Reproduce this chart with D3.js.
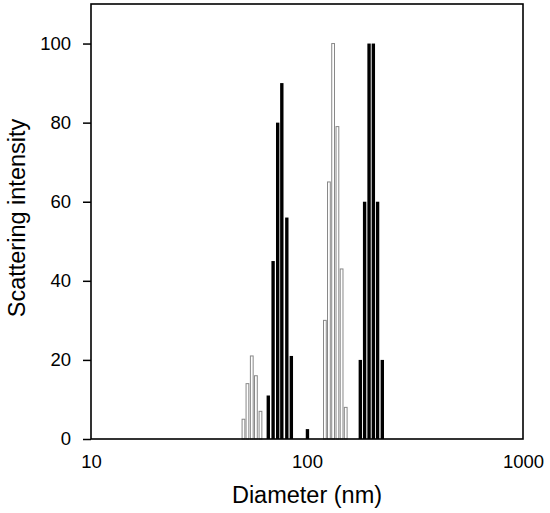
<!DOCTYPE html>
<html>
<head>
<meta charset="utf-8">
<script src="https://cdn.jsdelivr.net/npm/d3@7"></script>
<style>
  body { margin: 0; background: #fff; }
  text { font-family: "Liberation Sans", Arial, sans-serif; fill: #000; }
</style>
</head>
<body>
<script>
const width = 550;
const height = 513;

// 图的边框位置
const mLeft = 91, mRight = 523, mTop = 4, mBottom = 439;

// 数据：白色柱（空心）
const whiteDiam = [50.8, 53.0, 55.5, 58.0, 60.9, 121.0, 126.3, 132.1, 138.3, 144.6, 151.1];
const whiteVal  = [5, 14, 21, 16, 7, 30, 65, 100, 79, 43, 8];
// 黑色柱
const blackDiam = [66.4, 69.9, 73.4, 76.7, 80.9, 84.9, 100.8, 177.1, 185.4, 194.4, 203.5, 212.9, 223.9];
const blackVal  = [11, 45, 80, 90, 56, 21, 2.5, 20, 60, 100, 100, 60, 20];

const xTicks = [10, 100, 1000];
const yTicks = [0, 20, 40, 60, 80, 100];

const svg = d3.select("body").append("svg")
  .attr("width", width)
  .attr("height", height);

const x = d3.scaleLog().domain([10, 1000]).range([mLeft, mRight]);
const y = d3.scaleLinear().domain([0, 110]).range([mBottom, mTop]);

// 柱宽（对数空间中的半宽）
const blackHalf = 0.0092;
const whiteHalf = 0.0064;

const white = whiteDiam.map((d, i) => ({ d: d, v: whiteVal[i] }));
const black = blackDiam.map((d, i) => ({ d: d, v: blackVal[i] }));

svg.selectAll(".wbar")
  .data(white)
  .enter()
  .append("rect")
  .attr("class", "wbar")
  .attr("x", d => x(d.d * Math.pow(10, -whiteHalf)))
  .attr("width", d => x(d.d * Math.pow(10, whiteHalf)) - x(d.d * Math.pow(10, -whiteHalf)))
  .attr("y", d => y(d.v))
  .attr("height", d => y(0) - y(d.v))
  .attr("fill", "#fff")
  .attr("stroke", "#888")
  .attr("stroke-width", 1);

svg.selectAll(".bbar")
  .data(black)
  .enter()
  .append("rect")
  .attr("class", "bbar")
  .attr("x", d => x(d.d * Math.pow(10, -blackHalf)))
  .attr("width", d => x(d.d * Math.pow(10, blackHalf)) - x(d.d * Math.pow(10, -blackHalf)) - 0.6)
  .attr("y", d => y(d.v))
  .attr("height", d => y(0) - y(d.v))
  .attr("fill", "#000");

// 边框
svg.append("rect")
  .attr("x", mLeft)
  .attr("y", mTop)
  .attr("width", mRight - mLeft)
  .attr("height", mBottom - mTop)
  .attr("fill", "none")
  .attr("stroke", "#000")
  .attr("stroke-width", 1.6);

// y 轴
const yAxis = d3.axisLeft(y).tickValues(yTicks).tickSize(8).tickPadding(12);
const gy = svg.append("g")
  .attr("transform", `translate(${mLeft},0)`)
  .call(yAxis);
gy.select(".domain").remove();
gy.selectAll("line").attr("stroke-width", 1.5);
gy.selectAll("text").attr("font-size", 18.5).style("font-family", "Liberation Sans, Arial, sans-serif");

// x 轴（只有标签）
const xAxis = d3.axisBottom(x).tickValues(xTicks).tickFormat(d3.format("d")).tickSize(0).tickPadding(16);
const gx = svg.append("g")
  .attr("transform", `translate(0,${mBottom})`)
  .call(xAxis);
gx.select(".domain").remove();
gx.selectAll("text").attr("font-size", 18.5).style("font-family", "Liberation Sans, Arial, sans-serif");

svg.append("text")
  .attr("x", (mLeft + mRight) / 2)
  .attr("y", 503)
  .attr("text-anchor", "middle")
  .attr("font-size", 23.5)
  .text("Diameter (nm)");

svg.append("text")
  .attr("transform", `translate(25,218) rotate(-90)`)
  .attr("text-anchor", "middle")
  .attr("font-size", 23.5)
  .text("Scattering intensity");
</script>
</body>
</html>
